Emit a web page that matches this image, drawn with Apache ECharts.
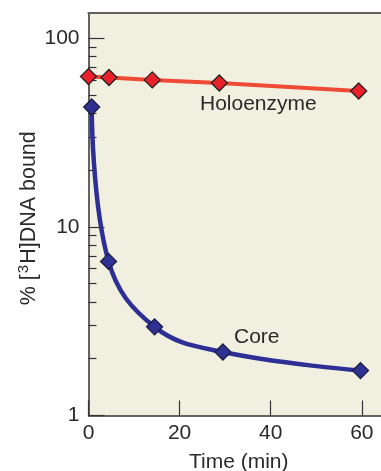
<!DOCTYPE html>
<html><head><meta charset="utf-8">
<script src="https://cdn.jsdelivr.net/npm/echarts@6/dist/echarts.min.js"></script>
<style>html,body{margin:0;padding:0;background:#fff}#c{width:381px;height:471px}</style>
</head><body><div id="c"></div>
<script>
const holoTime = [0, 4.5, 14, 28.7, 59.3];
const holoBound = [62.6, 61.9, 60.1, 57.9, 52.5];
const coreTime = [0.7, 4.4, 14.5, 29.5, 59.7];
const coreBound = [43.2, 6.56, 2.95, 2.17, 1.73];
const xTicks = [0, 20, 40, 60];
const yMajor = [1, 10, 100];
const yMinor = [2, 3, 4, 5, 6, 7, 8, 9, 20, 30, 40, 50, 60, 70, 80, 90];

const FONT = '"Liberation Sans", Arial, sans-serif';
const TXT = '#2a2a2a';
const chart = echarts.init(document.getElementById('c'), null, {renderer: 'canvas'});
const pair = (xs, ys) => xs.map((x, i) => [x, ys[i]]);
chart.setOption({
  animation: false,
  backgroundColor: '#ffffff',
  grid: {left: 88.5, top: 13, right: 0, bottom: 55.5, show: true, backgroundColor: '#f1efdf', borderWidth: 0,
    containLabel: false, outerBoundsMode: 'none'},
  xAxis: [{
    type: 'value', min: 0, max: 64.2, position: 'bottom',
    axisLine: {show: true, lineStyle: {color: '#333', width: 1.5}},
    axisTick: {show: true, inside: true, length: 15, customValues: xTicks, lineStyle: {color: '#333', width: 1.2}},
    axisLabel: {customValues: xTicks, color: TXT, fontSize: 21, fontFamily: FONT, margin: 7},
    splitLine: {show: false},
    name: 'Time (min)', nameLocation: 'middle', nameGap: 36, nameMoveOverlap: false,
    nameTextStyle: {color: TXT, fontSize: 21, fontFamily: FONT, padding: [0, 0, 0, 8]}
  }, {
    type: 'value', min: 0, max: 64.2, position: 'top',
    axisLine: {show: true, lineStyle: {color: '#606060', width: 2.2}},
    axisTick: {show: false}, axisLabel: {show: false}, splitLine: {show: false}
  }],
  yAxis: [{
    type: 'log', logBase: 10, min: 1, max: 136,
    axisLine: {show: true, lineStyle: {color: '#333', width: 1.5}},
    axisTick: {show: true, inside: true, length: 16, customValues: yMajor, lineStyle: {color: '#333', width: 1.2}},
    axisLabel: {customValues: yMajor, color: TXT, fontSize: 21, fontFamily: FONT, margin: 9},
    splitLine: {show: false},
    name: '% [{s|3}H]DNA bound', nameLocation: 'middle', nameGap: 47, nameMoveOverlap: false,
    nameTextStyle: {color: TXT, fontSize: 21.5, fontFamily: FONT, padding: [0, 8, 0, 0],
      rich: {s: {fontSize: 15, fontFamily: FONT, color: TXT, verticalAlign: 'top', padding: [0, 1, 10, 1]}}}
  }, {
    type: 'log', logBase: 10, min: 1, max: 136, position: 'left',
    axisLine: {show: false},
    axisTick: {show: true, inside: true, length: 8, customValues: yMinor, lineStyle: {color: '#333', width: 1.2}},
    axisLabel: {show: false}, splitLine: {show: false}
  }],
  series: [{
    name: 'Holoenzyme', type: 'line', xAxisIndex: 0, yAxisIndex: 0,
    data: pair(holoTime, holoBound),
    lineStyle: {color: '#ef4a34', width: 4},
    symbol: 'diamond', symbolSize: [16, 16],
    itemStyle: {color: '#e8212a', borderColor: '#222', borderWidth: 1.3},
    z: 3
  }, {
    name: 'Core', type: 'line', xAxisIndex: 0, yAxisIndex: 0,
    data: pair(coreTime, coreBound),
    smooth: 0.4,
    lineStyle: {color: '#2d2f95', width: 4.5},
    symbol: 'diamond', symbolSize: [16, 16],
    itemStyle: {color: '#2e3192', borderColor: '#1c1c40', borderWidth: 1.3},
    z: 4
  }],
  graphic: [
    {type: 'text', left: 200, top: 94, style: {text: 'Holoenzyme', fill: TXT, font: '21px ' + FONT}},
    {type: 'text', left: 234, top: 327, style: {text: 'Core', fill: TXT, font: '21px ' + FONT}}
  ]
});
</script></body></html>
